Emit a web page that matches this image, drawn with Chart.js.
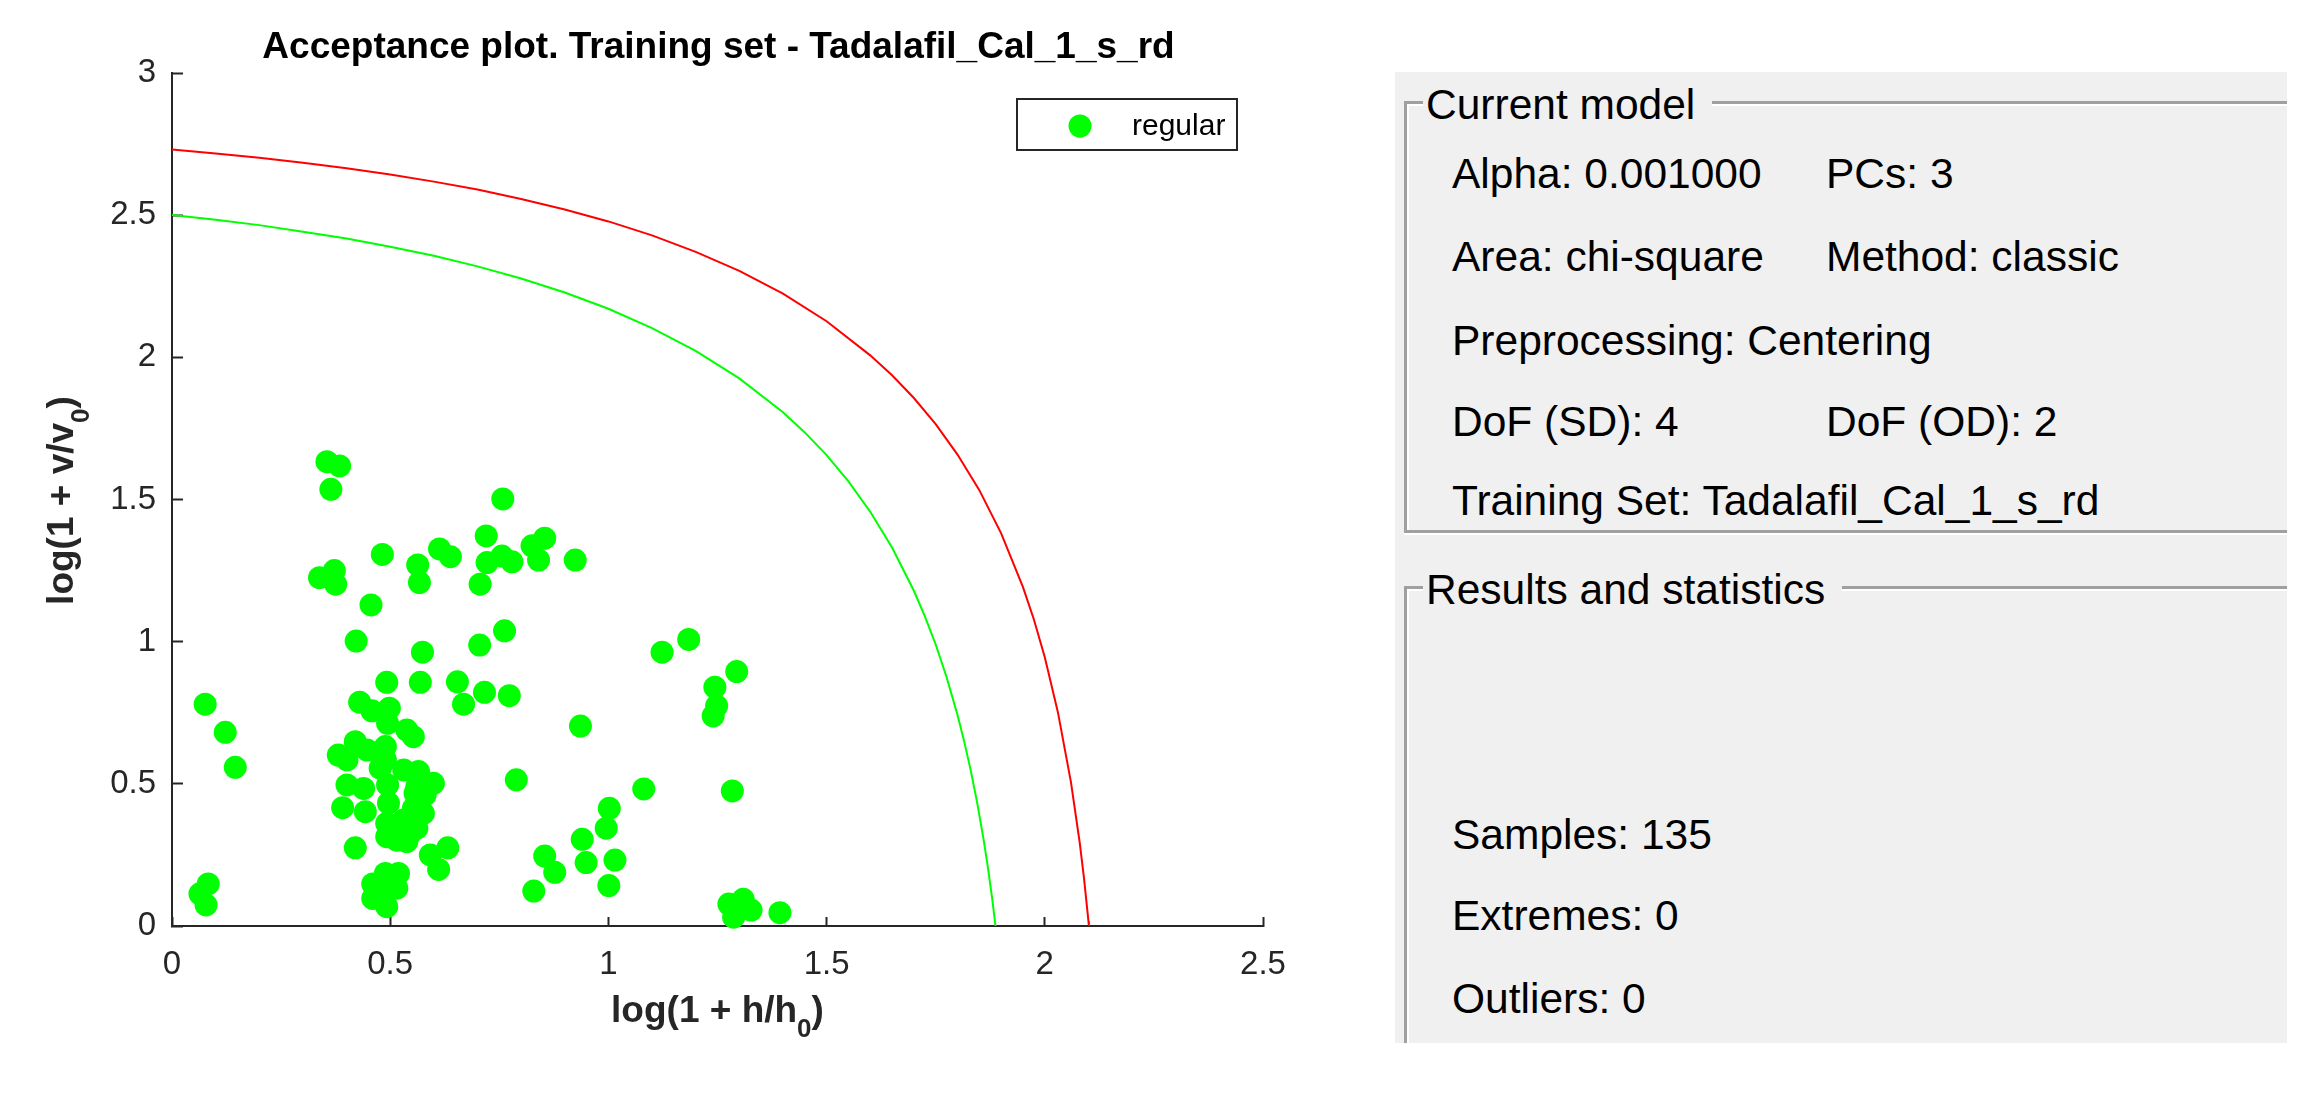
<!DOCTYPE html>
<html>
<head>
<meta charset="utf-8">
<script src="https://cdn.jsdelivr.net/npm/chart.js@4/dist/chart.umd.min.js"></script>
<style>
  html, body { margin: 0; padding: 0; background: #fff; overflow: hidden; }
  body { width: 2323px; height: 1106px; position: relative; font-family: 'Liberation Sans', Arial, sans-serif; }
  #plot { position: absolute; left: 0; top: 0; width: 1435px; height: 1106px; }
  .panel { position: absolute; left: 1395px; top: 72px; width: 892px; height: 971px; background: #f0f0f0; }
  .frame { position: absolute; left: 1404px; width: 880px; border: 3px solid #a0a0a0; border-right: none;
           box-shadow: inset 2px 2px 0 #fff; }
  #f1 { top: 101px; height: 426px; box-shadow: inset 2px 2px 0 #fff, 0 2px 0 #fff; }
  #f2 { top: 586px; height: 454px; border-bottom: none; }
  .txt { position: absolute; font-size: 42.5px; line-height: 43px; color: #000; white-space: nowrap; }
  .cap { background: #f0f0f0; padding: 0 17px 0 3px; }
</style>
</head>
<body>
<div id="plot"><canvas id="chart"></canvas></div>

<div class="panel"></div>
<div class="frame" id="f1"></div>
<div class="frame" id="f2"></div>
<div class="txt cap" style="left:1423px; top:83px;">Current model</div>
<div class="txt" style="left:1452px; top:152px;">Alpha: 0.001000</div>
<div class="txt" style="left:1826px; top:152px;">PCs: 3</div>
<div class="txt" style="left:1452px; top:235px;">Area: chi-square</div>
<div class="txt" style="left:1826px; top:235px;">Method: classic</div>
<div class="txt" style="left:1452px; top:319px;">Preprocessing: Centering</div>
<div class="txt" style="left:1452px; top:400px;">DoF (SD): 4</div>
<div class="txt" style="left:1826px; top:400px;">DoF (OD): 2</div>
<div class="txt" style="left:1452px; top:479px;">Training Set: Tadalafil_Cal_1_s_rd</div>
<div class="txt cap" style="left:1423px; top:568px;">Results and statistics</div>
<div class="txt" style="left:1452px; top:813px;">Samples: 135</div>
<div class="txt" style="left:1452px; top:894px;">Extremes: 0</div>
<div class="txt" style="left:1452px; top:977px;">Outliers: 0</div>

<script>
const FONT = "'Liberation Sans', Arial, sans-serif"
const INK = '#262626'

const titleText = 'Acceptance plot. Training set - Tadalafil_Cal_1_s_rd'
const legendLabel = 'regular'

const xTicks = [0, 0.5, 1, 1.5, 2, 2.5]
const yTicks = [0, 0.5, 1, 1.5, 2, 2.5, 3]

// regular samples, log(1 + h/h0) vs log(1 + v/v0)
const regularX = [
  0.355, 0.384, 0.364, 0.758, 0.720, 0.482, 0.563, 0.567, 0.613, 0.638,
  0.722, 0.756, 0.779, 0.825, 0.854, 0.840, 0.924, 0.706, 0.338, 0.372,
  0.375, 0.456, 0.422, 0.574, 0.705, 0.762, 0.492, 0.569, 0.654, 0.716,
  0.773, 0.668,
  1.123, 1.184, 1.294, 1.244, 1.248, 1.240, 0.936, 0.789, 1.081, 1.284,
  1.002, 0.995, 0.940, 0.854, 0.877, 0.949, 1.015, 0.829, 1.001, 1.276,
  1.309, 1.327, 1.287, 1.295, 1.393,
  0.076, 0.122, 0.145, 0.083, 0.064, 0.078,
  0.430, 0.458, 0.498, 0.494, 0.538, 0.553, 0.420, 0.381, 0.401, 0.447,
  0.489, 0.489, 0.477, 0.531, 0.565, 0.599, 0.401, 0.439, 0.494, 0.561,
  0.557, 0.580, 0.391, 0.443, 0.496, 0.553, 0.576, 0.492, 0.531, 0.561,
  0.492, 0.515, 0.538, 0.546, 0.420, 0.592, 0.632, 0.611,
  0.460, 0.489, 0.519, 0.515, 0.460, 0.492, 0.485, 0.477
]
const regularY = [
  1.633, 1.618, 1.536, 1.502, 1.372, 1.307, 1.270, 1.208, 1.326, 1.299,
  1.278, 1.301, 1.281, 1.337, 1.364, 1.287, 1.287, 1.202, 1.225, 1.250,
  1.202, 1.129, 1.002, 0.963, 0.988, 1.038, 0.857, 0.857, 0.859, 0.822,
  0.810, 0.780,
  0.963, 1.008, 0.895, 0.840, 0.774, 0.739, 0.703, 0.514, 0.482, 0.475,
  0.414, 0.344, 0.305, 0.246, 0.189, 0.223, 0.232, 0.123, 0.142, 0.077,
  0.094, 0.056, 0.031, 0.056, 0.047,
  0.780, 0.681, 0.558, 0.148, 0.113, 0.074,
  0.787, 0.757, 0.766, 0.713, 0.689, 0.666, 0.648, 0.601, 0.584, 0.619,
  0.631, 0.584, 0.555, 0.549, 0.543, 0.502, 0.496, 0.484, 0.496, 0.490,
  0.467, 0.461, 0.416, 0.402, 0.432, 0.414, 0.396, 0.361, 0.373, 0.344,
  0.314, 0.302, 0.297, 0.326, 0.275, 0.250, 0.275, 0.199,
  0.148, 0.185, 0.185, 0.133, 0.097, 0.068, 0.138, 0.103
]

// extreme limit (green)
const extremeX = [0, 0.1, 0.2, 0.3, 0.4, 0.5, 0.6, 0.7, 0.8, 0.9, 1.0, 1.1, 1.2, 1.3, 1.4,
  1.45, 1.5, 1.55, 1.6, 1.65, 1.7, 1.725, 1.75, 1.775, 1.8, 1.815, 1.83, 1.845, 1.86, 1.87, 1.88, 1.887]
const extremeY = [2.501, 2.484, 2.465, 2.442, 2.418, 2.389, 2.357, 2.320, 2.277, 2.228, 2.171, 2.103,
  2.023, 1.926, 1.807, 1.736, 1.656, 1.564, 1.457, 1.331, 1.179, 1.090, 0.990, 0.875, 0.742,
  0.651, 0.549, 0.434, 0.302, 0.202, 0.089, 0]

// outlier limit (red)
const outlierX = [0, 0.1, 0.2, 0.3, 0.4, 0.5, 0.6, 0.7, 0.8, 0.9, 1.0, 1.1, 1.2, 1.3, 1.4, 1.5,
  1.6, 1.65, 1.7, 1.75, 1.8, 1.85, 1.9, 1.95, 1.975, 2.0, 2.03, 2.06, 2.08, 2.09, 2.1, 2.101]
const outlierY = [2.731, 2.717, 2.702, 2.684, 2.665, 2.643, 2.618, 2.590, 2.557, 2.520, 2.478, 2.429,
  2.371, 2.304, 2.224, 2.127, 2.007, 1.937, 1.857, 1.765, 1.658, 1.533, 1.381, 1.192, 1.078,
  0.945, 0.752, 0.505, 0.293, 0.166, 0.017, 0]

const toPoints = (xs, ys) => xs.map((x, i) => ({ x, y: ys[i] }))

function drawSubText(ctx, pre, sub, post, size, subSize, drop) {
  ctx.font = `bold ${size}px ${FONT}`
  const w1 = ctx.measureText(pre).width
  const w3 = ctx.measureText(post).width
  ctx.font = `bold ${subSize}px ${FONT}`
  const w2 = ctx.measureText(sub).width
  let x = -(w1 + w2 + w3) / 2
  ctx.textAlign = 'left'
  ctx.textBaseline = 'alphabetic'
  ctx.font = `bold ${size}px ${FONT}`
  ctx.fillText(pre, x, 0)
  x += w1
  ctx.font = `bold ${subSize}px ${FONT}`
  ctx.fillText(sub, x, drop)
  x += w2
  ctx.font = `bold ${size}px ${FONT}`
  ctx.fillText(post, x, 0)
}

const overlay = {
  id: 'overlay',
  afterDraw(chart) {
    const { ctx, chartArea: a } = chart
    const cx = (a.left + a.right) / 2
    const cy = (a.top + a.bottom) / 2
    ctx.save()

    ctx.fillStyle = '#000'
    ctx.font = `bold 37px ${FONT}`
    ctx.textAlign = 'center'
    ctx.textBaseline = 'alphabetic'
    ctx.fillText(titleText, cx + 1, a.top - 15)

    ctx.fillStyle = INK
    ctx.save()
    ctx.translate(cx, a.bottom + 96)
    drawSubText(ctx, 'log(1 + h/h', '0', ')', 37, 26, 15)
    ctx.restore()

    ctx.save()
    ctx.translate(73, cy + 1)
    ctx.rotate(-Math.PI / 2)
    drawSubText(ctx, 'log(1 + v/v', '0', ')', 37, 26, 16)
    ctx.restore()

    // legend box
    const bx = a.right - 246
    const by = a.top + 26
    ctx.fillStyle = '#fff'
    ctx.fillRect(bx, by, 220, 51)
    ctx.strokeStyle = INK
    ctx.lineWidth = 2
    ctx.strokeRect(bx, by, 220, 51)
    ctx.fillStyle = '#00ff00'
    ctx.beginPath()
    ctx.arc(bx + 63, by + 27, 11.5, 0, Math.PI * 2)
    ctx.fill()
    ctx.fillStyle = '#000'
    ctx.font = `30px ${FONT}`
    ctx.textAlign = 'left'
    ctx.fillText(legendLabel, bx + 115, by + 36)

    ctx.restore()
  }
}

function axis(ticks, tickLen, pad, fit) {
  return {
    type: 'linear',
    min: ticks[0],
    max: ticks[ticks.length - 1],
    afterBuildTicks: scale => {
      scale.ticks = ticks.map(v => ({ value: v }))
    },
    afterFit: fit,
    grid: {
      display: true,
      drawOnChartArea: false,
      drawTicks: true,
      tickLength: tickLen,
      tickColor: INK,
      tickWidth: 2
    },
    border: { display: true, color: INK, width: 2 },
    ticks: {
      color: INK,
      font: { family: FONT, size: 33 },
      padding: pad,
      maxRotation: 0,
      autoSkip: false,
      callback: value => String(value)
    },
    title: { display: false }
  }
}

Chart.defaults.font.family = FONT

new Chart(document.getElementById('chart'), {
  type: 'scatter',
  data: {
    datasets: [
      {
        label: legendLabel,
        data: toPoints(regularX, regularY),
        backgroundColor: '#00ff00',
        borderWidth: 0,
        pointRadius: 11.5,
        pointHoverRadius: 11.5,
        clip: false
      },
      {
        label: 'extreme limit',
        data: toPoints(extremeX, extremeY),
        showLine: true,
        borderColor: '#00ff00',
        borderWidth: 2,
        pointRadius: 0,
        fill: false,
        tension: 0
      },
      {
        label: 'outlier limit',
        data: toPoints(outlierX, outlierY),
        showLine: true,
        borderColor: '#ff0000',
        borderWidth: 2,
        pointRadius: 0,
        fill: false,
        tension: 0
      }
    ]
  },
  options: {
    responsive: true,
    maintainAspectRatio: false,
    animation: false,
    events: [],
    layout: { padding: { top: 73, right: 172, bottom: 0, left: 0 } },
    scales: {
      x: Object.assign(axis(xTicks, -9, 28, s => { s.height = 180 }), { position: 'bottom' }),
      y: Object.assign(axis(yTicks, -11, 27, s => { s.width = 172 }), { position: 'left' })
    },
    plugins: {
      legend: { display: false },
      title: { display: false },
      tooltip: { enabled: false }
    }
  },
  plugins: [overlay]
})
</script>
</body>
</html>
